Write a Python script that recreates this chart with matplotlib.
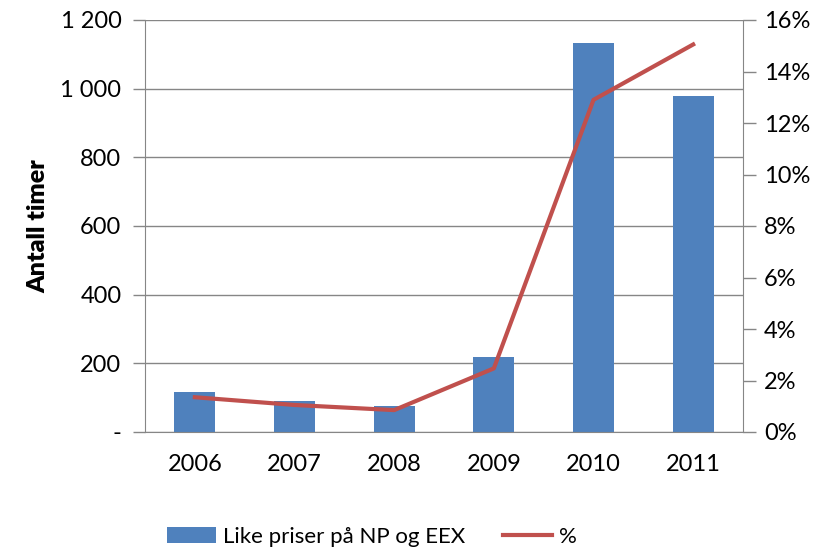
import matplotlib.pyplot as plt
import matplotlib.ticker as mtick
import numpy as np

plt.rcParams["font.family"] = ["Lato", "DejaVu Sans"]

years = ["2006", "2007", "2008", "2009", "2010", "2011"]
hours = [116, 90, 76, 218, 1132, 979]
share_pct = [1.35, 1.05, 0.85, 2.47, 12.9, 15.05]

blue = "#4F81BD"
red = "#C0504D"
grey = "#868686"


def hours_fmt(v, pos):
    if v == 0:
        return "-"
    return f"{int(v):,}".replace(",", " ")


fig = plt.figure(figsize=(8.27, 5.52), dpi=100)
ax = fig.add_axes([145 / 827, 1 - 432 / 552, 598 / 827, 412 / 552])

x = np.arange(len(years))
bars = ax.bar(x, hours, width=0.41, color=blue, zorder=2, label="Like priser på NP og EEX")

ax.set_xlim(-0.5, len(years) - 0.5)
ax.set_ylim(0, 1200)
ax.set_yticks(range(0, 1201, 200))
ax.yaxis.set_major_formatter(mtick.FuncFormatter(hours_fmt))
ax.set_xticks(x)
ax.set_xticklabels(years)
ax.grid(axis="y", color=grey, lw=1, zorder=0)
ax.tick_params(axis="x", length=0, pad=16, labelsize=17)
ax.tick_params(axis="y", length=9, width=1, color=grey, pad=8, labelsize=17)
for side in ("top", "right"):
    ax.spines[side].set_visible(False)
for side in ("left", "bottom"):
    ax.spines[side].set_color(grey)
ax.set_ylabel("Antall timer", fontsize=18, fontweight="heavy", labelpad=8)

ax2 = ax.twinx()
line, = ax2.plot(x, share_pct, color=red, lw=3, zorder=3, label="%")
ax2.set_ylim(0, 16)
ax2.set_yticks(range(0, 17, 2))
ax2.yaxis.set_major_formatter(mtick.PercentFormatter(decimals=0))
ax2.tick_params(axis="y", length=9, width=1, color=grey, pad=6, labelsize=17)
for side in ("top", "left", "bottom"):
    ax2.spines[side].set_visible(False)
ax2.spines["right"].set_color(grey)

fig.legend(
    [bars, line],
    ["Like priser på NP og EEX", "%"],
    loc="center",
    bbox_to_anchor=(372 / 827, 1 - 537 / 552),
    ncol=2,
    frameon=False,
    fontsize=16,
    handlelength=2.2,
    handletextpad=0.3,
    columnspacing=1.7,
)

fig.savefig("out.png", dpi=100)
